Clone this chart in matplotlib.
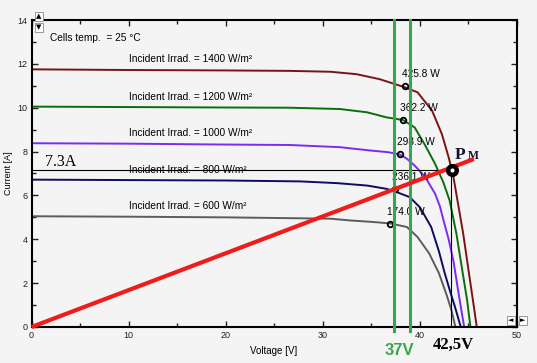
import matplotlib
matplotlib.use("Agg")
from matplotlib import pyplot as plt

# I-V curves (voltage [V], current [A])
v1400 = [0, 10, 20, 26.6, 30.8, 33.5, 35.9, 37.3, 38.5, 39.8, 41.3, 42.3, 43.0, 43.5, 43.9, 44.5, 45.0, 45.5, 45.9]
i1400 = [11.75, 11.72, 11.7, 11.68, 11.64, 11.53, 11.3, 11.1, 10.93, 10.7, 9.86, 8.8, 7.74, 6.83, 5.8, 4.26, 2.74, 1.23, 0]

v1200 = [0, 10, 20, 26.6, 31.8, 34.6, 36.6, 38.3, 39.5, 40.6, 41.6, 42.45, 43.1, 43.8, 44.35, 44.9, 45.25]
i1200 = [10.05, 10.03, 10.01, 10.0, 9.94, 9.79, 9.56, 9.44, 9.1, 8.27, 7.44, 6.6, 5.77, 4.26, 2.74, 1.23, 0]

v1000 = [0, 10, 20, 26.6, 31.8, 34.9, 36.8, 38.0, 38.7, 39.5, 40.6, 41.6, 42.1, 42.6, 43.0, 43.5, 44.0, 44.6]
i1000 = [8.38, 8.36, 8.32, 8.3, 8.2, 8.05, 7.97, 7.86, 7.67, 7.36, 6.83, 6.08, 5.5, 4.65, 4.0, 3.0, 1.6, 0]

v800 = [0, 10, 20, 27.7, 31.5, 34.6, 36.6, 37.65, 39.0, 40.05, 41.2, 42.0, 42.6, 43.1, 43.65, 44.25]
i800 = [6.72, 6.7, 6.68, 6.64, 6.56, 6.45, 6.3, 6.15, 5.92, 5.45, 4.56, 3.45, 2.45, 1.7, 0.92, 0]

v600 = [0, 10, 20, 30.8, 32.8, 35.2, 37.0, 38.7, 39.8, 41.0, 42.0, 42.8, 43.3, 43.7]
i600 = [5.05, 5.03, 5.0, 4.94, 4.86, 4.79, 4.72, 4.56, 4.1, 3.35, 2.45, 1.45, 0.75, 0]

irrad = [1400, 1200, 1000, 800, 600]
colors = ["#7a1414", "#0a6e0a", "#7a2cf0", "#0c0c60", "#5c5c5c"]
curves = [(v1400, i1400), (v1200, i1200), (v1000, i1000), (v800, i800), (v600, i600)]

# max power points
mpp_v = [38.5, 38.3, 38.0, 37.5, 36.95]
mpp_i = [10.97, 9.46, 7.87, 6.3, 4.71]
mpp_lbl = ["425.8 W", "362.2 W", "298.9 W", "236.1 W", "174.0 W"]

# annotations drawn on top
green_v = [37.4, 39.05]
pm_v, pm_i = 43.3, 7.18
vline_v = 43.2
red_end = (45.6, 7.66)

fig = plt.figure(figsize=(5.37, 3.63), dpi=100, facecolor="#f4f4f4")
ax = fig.add_axes([0.0587, 0.0992, 0.9032, 0.8457])
ax.set_facecolor("#f4f4f4")

for (v, i), c, g in zip(curves, colors, irrad):
    ax.plot(v, i, color=c, lw=1.4, zorder=2)
    ax.text(10, i[0] + 0.45, "Incident Irrad. = %d W/m²" % g, fontsize=7.3,
            family="Liberation Sans", ha="left", va="center", zorder=3)

ax.plot(mpp_v, mpp_i, "o", ms=4, mfc="none", mec="black", mew=1.3, zorder=3)
for v, i, s in zip(mpp_v, mpp_i, mpp_lbl):
    ax.annotate(s, (v, i), xytext=(-3, 12), textcoords="offset pixels", fontsize=7.3,
                family="Liberation Sans", ha="left", va="center", zorder=3)

ax.text(1.9, 13.17, "Cells temp.  = 25 °C", fontsize=7.3, family="Liberation Sans",
        ha="left", va="center")

# helper lines
ax.plot([0, pm_v], [pm_i, pm_i], color="black", lw=0.8, zorder=3)
ax.plot([vline_v, vline_v], [0, pm_i], color="black", lw=0.8, zorder=3)
for gv in green_v:
    ax.plot([gv, gv], [-0.2, 14], color="#33a853", lw=2.2, zorder=4, clip_on=False)
ax.plot([0, red_end[0]], [0, red_end[1]], color="#f01c1c", lw=3, zorder=5,
        solid_capstyle="butt", clip_on=False)
ax.plot([pm_v], [pm_i], "o", ms=6.2, mfc="white", mec="black", mew=3.2, zorder=6)

ax.text(1.4, 7.32, "7.3A", fontsize=11.5, family="Liberation Serif", ha="left", va="baseline")
ax.text(43.66, 7.68, "P", fontsize=12.5, family="Liberation Serif", weight="bold",
        color="#101030", ha="left", va="baseline")
ax.text(44.95, 7.68, "M", fontsize=8.5, family="Liberation Serif", weight="bold",
        color="#101030", ha="left", va="baseline")
ax.text(36.45, -1.27, "37V", fontsize=12, family="Liberation Sans", weight="bold",
        color="#3aa64a", ha="left", va="baseline", clip_on=False)
ax.text(41.4, -1.01, "42,5V", fontsize=12, family="Liberation Serif", weight="bold",
        color="black", ha="left", va="baseline", clip_on=False)

ax.set_xlim(0, 50)
ax.set_ylim(0, 14)
ax.set_xticks([0, 10, 20, 30, 40, 50])
ax.set_yticks([0, 2, 4, 6, 8, 10, 12, 14])
ax.set_xticks(range(0, 51, 5), minor=True)
ax.set_yticks(range(0, 15), minor=True)
ax.tick_params(which="both", direction="in", top=True, right=True, width=1,
               labelsize=6.5, pad=3, colors="#222222")
ax.tick_params(which="major", length=4)
ax.tick_params(which="minor", length=3)
for lbl in ax.get_xticklabels() + ax.get_yticklabels():
    lbl.set_family("Liberation Sans")
for sp in ax.spines.values():
    sp.set_linewidth(1.5)

ax.set_xlabel("Voltage [V]", fontsize=7, family="Liberation Sans")
ax.set_ylabel("Current [A]", fontsize=6.5, family="Liberation Sans")
ax.xaxis.set_label_coords(0.5, -0.063)
ax.yaxis.set_label_coords(-0.038, 0.5)

# scroll buttons of the original window
box = dict(boxstyle="square,pad=0.2", fc="white", ec="#888888", lw=0.6)
fig.text(0.072, 0.955, "▲", fontsize=5, ha="center", va="center", bbox=box)
fig.text(0.072, 0.925, "▼", fontsize=5, ha="center", va="center", bbox=box)
fig.text(0.951, 0.118, "◄", fontsize=5, ha="center", va="center", bbox=box)
fig.text(0.974, 0.118, "►", fontsize=5, ha="center", va="center", bbox=box)

fig.savefig("out.png", dpi=100, facecolor=fig.get_facecolor())
